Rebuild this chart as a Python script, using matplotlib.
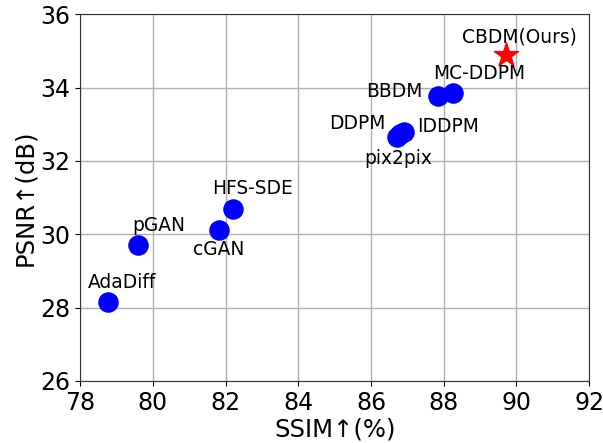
import matplotlib
matplotlib.use("Agg")
import matplotlib.pyplot as plt

# methods, SSIM (%) and PSNR (dB)
methods = ["AdaDiff", "pGAN", "cGAN", "HFS-SDE", "pix2pix", "DDPM", "IDDPM", "BBDM", "MC-DDPM"]
ssim = [78.77, 79.6, 81.83, 82.2, 86.72, 86.8, 86.9, 87.83, 88.25]
psnr = [28.15, 29.7, 30.12, 30.68, 32.64, 32.72, 32.79, 33.78, 33.84]

ours_name = "CBDM(Ours)"
ours_ssim = 89.72
ours_psnr = 34.88

# label centres in data coords
label_x = [79.16, 80.17, 81.82, 82.73, 86.75, 85.62, 88.12, 86.64, 88.97]
label_y = [28.68, 30.23, 29.58, 31.25, 32.07, 33.02, 32.94, 33.9, 34.39]
ours_label = (90.07, 35.37)


def main():
    fig, ax = plt.subplots(figsize=(6.03, 4.43), dpi=100)
    fig.subplots_adjust(left=0.133, right=0.977, top=0.968, bottom=0.14)

    ax.scatter(ssim, psnr, s=190, color="blue", zorder=3)
    ax.scatter([ours_ssim], [ours_psnr], s=330, marker="*", color="red", zorder=3)

    for name, tx, ty in zip(methods, label_x, label_y):
        ax.text(tx, ty, name, fontsize=13.4, ha="center", va="center")
    ax.text(ours_label[0], ours_label[1], ours_name, fontsize=13.4, ha="center", va="center")

    ax.set_xlim(78, 92)
    ax.set_ylim(26, 36)
    ax.set_xticks(range(78, 93, 2))
    ax.set_yticks(range(26, 37, 2))
    ax.tick_params(labelsize=17)
    ax.set_xlabel("SSIM↑(%)", fontsize=17.5, labelpad=2)
    ax.set_ylabel("PSNR↑(dB)", fontsize=17.5, labelpad=2)
    ax.grid(True, color="#b0b0b0", linewidth=1)
    ax.set_axisbelow(True)
    for sp in ax.spines.values():
        sp.set_color("#333333")

    fig.savefig("out.png")


if __name__ == "__main__":
    main()
